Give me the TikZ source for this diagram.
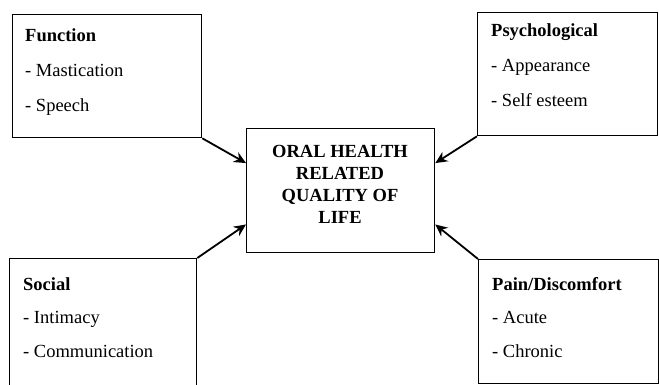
\documentclass[tikz,border=0pt]{standalone}
\usepackage{fontspec}
\setmainfont{Liberation Serif}
\usetikzlibrary{calc,arrows.meta}
\begin{document}
\begin{tikzpicture}[x=1pt,y=-1pt,
  box/.style={draw,line width=1.3pt,rectangle,anchor=north west,inner sep=0pt},
  txt/.style={anchor=base west,inner sep=0pt,font=\fontsize{18.5}{22}\selectfont},
  head/.style={txt,font=\fontsize{18.5}{22}\selectfont\bfseries},
  conn/.style={line width=1.8pt,-{Stealth[length=12pt,width=11pt]}}]
\clip (0,0) rectangle (659,385);
\fill[white] (0,0) rectangle (659,385);
% boxes
\node[box,minimum width=189pt,minimum height=123pt] (func) at (12,14) {};
\node[box,minimum width=180pt,minimum height=123pt] (psy) at (477,12) {};
\node[box,minimum width=188pt,minimum height=124pt] (ctr) at (246,128) {};
\node[box,minimum width=187pt,minimum height=160pt] (soc) at (9,258) {};
\node[box,minimum width=180pt,minimum height=124pt] (pain) at (478,259) {};
% texts
\node[head] (t1) at (25,42) {Function};
\node[txt] (t2) at (25,77) {- Mastication};
\node[txt] (t3) at (25,112) {- Speech};
\node[head] (p1) at (491,37) {Psychological};
\node[txt] (p2) at (491,72) {- Appearance};
\node[txt] (p3) at (491,107) {- Self esteem};
\node[head] (s1) at (23,290) {Social};
\node[txt] (s2) at (23,323) {- Intimacy};
\node[txt] (s3) at (23,357) {- Communication};
\node[head] (d1) at (492,290) {Pain/Discomfort};
\node[txt] (d2) at (492,323) {- Acute};
\node[txt] (d3) at (492,357) {- Chronic};
\node[anchor=base,inner sep=0pt,align=center,font=\fontsize{18.5}{22}\selectfont\bfseries] (c1) at (340,223) {ORAL HEALTH\\RELATED\\QUALITY OF\\LIFE};
% connectors
\coordinate (cl1) at ($(ctr.north west)!0.28!(ctr.south west)$);
\coordinate (cl2) at ($(ctr.north west)!0.77!(ctr.south west)$);
\coordinate (cr1) at ($(ctr.north east)!0.28!(ctr.south east)$);
\coordinate (cr2) at ($(ctr.north east)!0.77!(ctr.south east)$);
\draw[conn] (func.south east) -- (cl1);
\draw[conn] (psy.south west) -- (cr1);
\draw[conn] (soc.north east) -- (cl2);
\draw[conn] (pain.north west) -- (cr2);
\end{tikzpicture}
\end{document}
